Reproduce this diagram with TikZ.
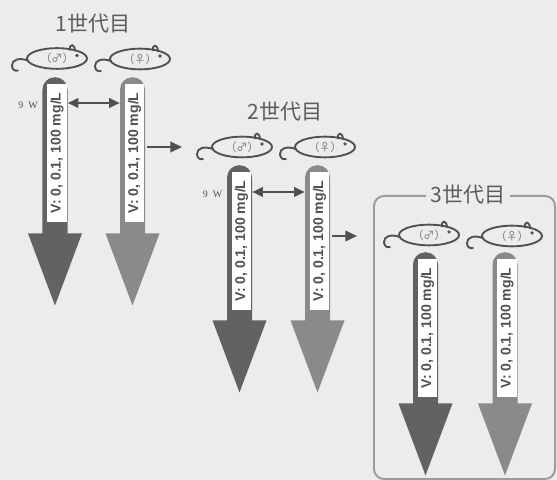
\documentclass[tikz,border=0pt]{standalone}
\usepackage{fontspec}
\usepackage{xcolor}
\usepackage{tikz}
\usetikzlibrary{arrows.meta,calc,shapes.geometric}
\newfontfamily\jpfont{Noto Sans CJK JP}
\newfontfamily\dosefont{Liberation Sans}[BoldFont={* Bold}]
\newfontfamily\wkfont{Liberation Serif}
\definecolor{paper}{HTML}{ECECEC}
\definecolor{ink}{HTML}{505050}
\definecolor{titlegrey}{HTML}{5C5C5C}
\definecolor{maledark}{HTML}{626262}
\definecolor{femgrey}{HTML}{8A8A8A}
\definecolor{boxgrey}{HTML}{9C9C9C}
\definecolor{symgrey}{HTML}{7A7A7A}

\tikzset{
  gentitle/.style={font=\jpfont\fontsize{18}{20}\selectfont, text=titlegrey, inner sep=1pt},
  mousebody/.style={ellipse, draw=ink, line width=1.6pt, minimum width=1.8cm,
    minimum height=0.62cm, inner sep=0pt, text=symgrey, font=\jpfont\fontsize{9.5}{10}\selectfont},
  mouseline/.style={draw=ink, line width=1.6pt, line cap=round},
  shaft/.style={rectangle, rounded corners=0.37cm, minimum width=0.75cm, inner sep=0pt},
  dosetag/.style={fill=white, rotate=90, inner sep=0pt, minimum width=4.14cm,
    minimum height=0.58cm, text=ink, font=\dosefont\bfseries\fontsize{12}{13}\selectfont},
  pairline/.style={draw=ink, line width=1.8pt, {Triangle[length=9pt,width=8pt]}-{Triangle[length=9pt,width=8pt]}},
  nextgen/.style={draw=ink, line width=1.8pt, -{Triangle[length=10pt,width=9pt]}},
  wklabel/.style={font=\wkfont\fontsize{8.5}{9}\selectfont, text=ink, inner sep=0pt},
  genbox/.style={draw=boxgrey, line width=1.7pt, rounded corners=0.3cm, inner sep=0pt}
}

\begin{document}
\begin{tikzpicture}[x=0.03cm, y=-0.03cm]
  \fill[paper] (0,0) rectangle (557,480);

  \node[genbox, minimum width=5.43cm, minimum height=8.49cm, anchor=north west] (g3box) at (373,195) {};

  \node[gentitle] (t1) at (93,24) {1世代目};
  \node[gentitle] (t2) at (285,112) {2世代目};
  \node[gentitle, fill=paper, inner xsep=4pt] (t3) at ($(g3box.north)+(3.5,0)$) {3世代目};

  % mice
  \foreach \nm/\x/\y/\sym in {1m/57/58.5/♂, 1f/140/59/♀, 2m/242/147/♂, 2f/325/147/♀, 3m/429/235/♂, 3f/512/236/♀}{
    \node[mousebody] (m\nm) at (\x,\y) {（\sym）};
    \draw[mouseline] ($(m\nm.center)+(-29,2)$) .. controls +(-9,-3) and +(0,-6) .. ++(-16,5)
      .. controls +(0,4) and +(-3,1) .. ++(6,5);
    \draw[mouseline] ($(m\nm.center)+(13,-8.5)$) .. controls +(-1,-7) and +(0,-7) .. ++(5,0.8);
    \fill[ink] ($(m\nm.center)+(20,-3)$) circle (1.5pt);
  }

  % dose arrows
  \foreach \nm/\x/\top/\len/\col in {1m/55/77/156/maledark, 1f/132.5/77/156/femgrey,
      2m/239.5/165/155/maledark, 2f/317.5/165/155/femgrey,
      3m/425.5/252/151/maledark, 3f/505/252/151/femgrey}{
    \node[shaft, fill=\col, minimum height={(\len+15)*0.03cm}, anchor=north] (s\nm) at (\x,\top) {};
    \fill[\col] ($(s\nm.south)+(-27,-15)$) -- ($(s\nm.south)+(27,-15)$) -- ($(s\nm.south)+(0,57)$) -- cycle;
    \node[dosetag] (v\nm) at ($(s\nm.north)+(2,76)$) {V: 0, 0.1, 100 mg/L};
  }

  \draw[pairline] ($(s1m.north east)+(0,26)$) -- ($(s1f.north west)+(0,26)$);
  \draw[pairline] ($(s2m.north east)+(0,27)$) -- ($(s2f.north west)+(0,27)$);
  \node[wklabel] (w1) at ($(s1m.north)+(-27,28)$) {9~~W};
  \node[wklabel] (w2) at ($(s2m.north)+(-27,29)$) {9~~W};

  \draw[nextgen] ($(s1f.east |- m2m.west)+(2,0)$) -- ($(m2m.west)+(-29,0)$);
  \draw[nextgen] ($(s2f.east |- m3m.west)+(2,1)$) -- ($(g3box.west |- m3m.west)+(-16,1)$);
\end{tikzpicture}
\end{document}
